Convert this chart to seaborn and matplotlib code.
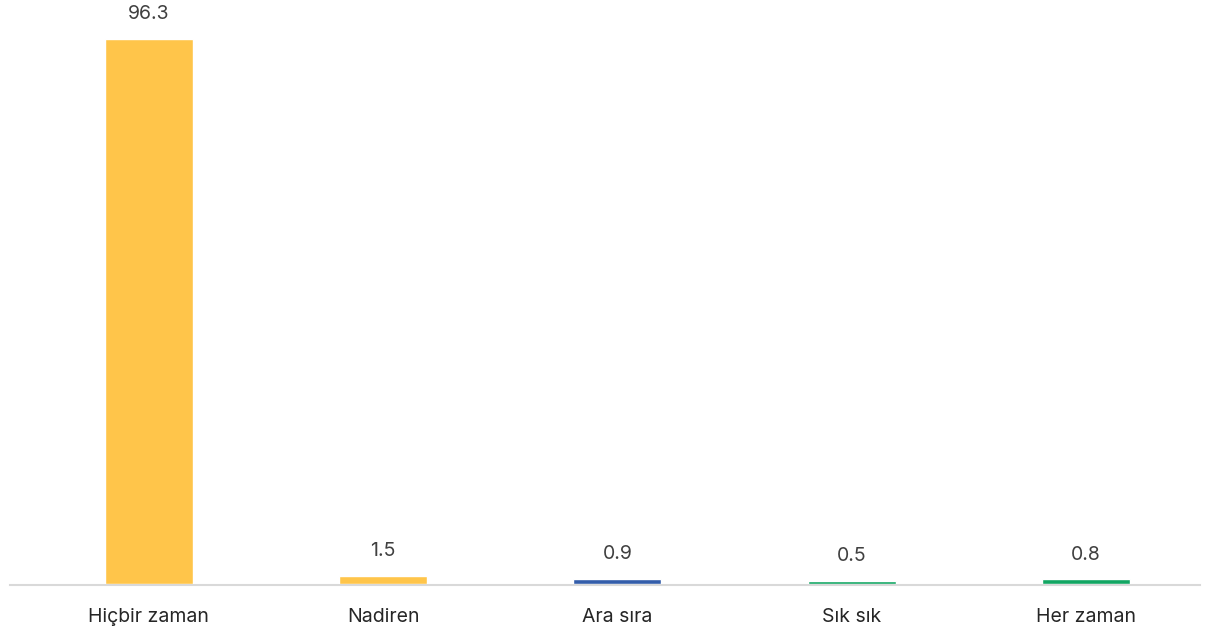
import matplotlib
matplotlib.use("Agg")
import matplotlib.pyplot as plt
import seaborn as sns
import pandas as pd

categories = ["Hiçbir zaman", "Nadiren", "Ara sıra", "Sık sık", "Her zaman"]
values = [96.3, 1.5, 0.9, 0.5, 0.8]
colors = ["#FFC54A", "#FFC54A", "#335DAA", "#12A663", "#12A663"]

sns.set_theme(style="white")
plt.rcParams["font.family"] = ["Inter", "DejaVu Sans"]

df = pd.DataFrame({"cat": categories, "val": values})

fig = plt.figure(figsize=(12.09, 6.34), dpi=100)
ax = fig.add_axes([10 / 1209, 50 / 634, 1190 / 1209, 584 / 634])
sns.barplot(data=df, x="cat", y="val", hue="cat", palette=colors,
            width=0.376, legend=False, ax=ax, saturation=1, zorder=3)

ax.set_xlim(-0.593, 4.487)
ax.set_ylim(0, 103.2)
for s in ["top", "right", "left"]:
    ax.spines[s].set_visible(False)
ax.spines["bottom"].set_color("#D9D9D9")
ax.spines["bottom"].set_linewidth(1.5)
ax.spines["bottom"].set_position(("outward", 1))
ax.set_yticks([])
ax.set_xlabel("")
ax.set_ylabel("")
ax.tick_params(axis="x", length=0, pad=16, labelsize=14, labelcolor="#262626")

for i, v in enumerate(values):
    ax.text(i, v + 2.8, f"{v}", ha="center", va="bottom", fontsize=14, color="#404040")

fig.savefig("out.png", dpi=100)
